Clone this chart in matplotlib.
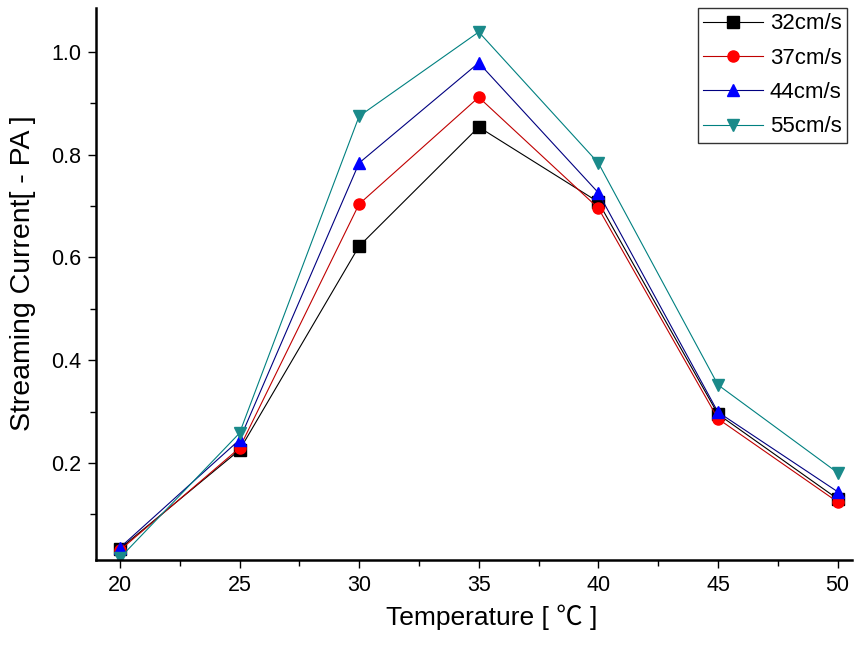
import matplotlib
matplotlib.use("Agg")
import matplotlib.pyplot as plt
from matplotlib.ticker import MultipleLocator

plt.rcParams["font.family"] = ["Liberation Sans", "Noto Sans CJK KR", "DejaVu Sans"]

temps = [20, 25, 30, 35, 40, 45, 50]
s32 = [0.033, 0.225, 0.622, 0.854, 0.708, 0.295, 0.130]
s37 = [0.030, 0.229, 0.704, 0.912, 0.696, 0.286, 0.124]
s44 = [0.035, 0.245, 0.784, 0.979, 0.726, 0.299, 0.144]
s55 = [0.015, 0.258, 0.875, 1.039, 0.784, 0.352, 0.181]
labels = ["32cm/s", "37cm/s", "44cm/s", "55cm/s"]

series = [
    (s32, "black", "black", "s"),
    (s37, "#c00000", "red", "o"),
    (s44, "#000080", "blue", "^"),
    (s55, "#008080", "#1a8a8a", "v"),
]

fig = plt.figure(figsize=(8.6, 6.45), dpi=100)
ax = fig.add_axes([0.1116, 0.1318, 0.879, 0.856])

for (vals, lc, mc, mk), lab in zip(series, labels):
    ax.plot(temps, vals, color=lc, linewidth=0.8, marker=mk, markersize=8,
            markerfacecolor=mc, markeredgecolor=mc, label=lab)

ax.set_xlim(19.0, 50.6)
ax.set_ylim(0.011, 1.086)
ax.xaxis.set_major_locator(MultipleLocator(5))
ax.xaxis.set_minor_locator(MultipleLocator(2.5))
ax.yaxis.set_major_locator(MultipleLocator(0.2))
ax.yaxis.set_minor_locator(MultipleLocator(0.1))
ax.yaxis.set_major_formatter(plt.FuncFormatter(lambda v, p: f"{v:.1f}"))

for s in ["top", "right"]:
    ax.spines[s].set_visible(False)
for s in ["left", "bottom"]:
    ax.spines[s].set_linewidth(1.8)

ax.tick_params(which="major", direction="out", length=5.5, width=1,
               labelsize=15.5, pad=5)
ax.tick_params(which="minor", direction="out", length=4, width=1)

ax.set_xlabel("Temperature [ \u2103 ]", fontsize=19)
ax.set_ylabel("Streaming Current[ - PA ]", fontsize=20.5)
ax.xaxis.set_label_coords(0.524, -0.08)
ax.yaxis.set_label_coords(-0.08, 0.52)

leg = ax.legend(loc="upper right", fontsize=16, frameon=True, fancybox=False,
                edgecolor="black", borderaxespad=0.2, handlelength=2.7,
                handletextpad=0.3, labelspacing=0.6, borderpad=0.25,
                bbox_to_anchor=(0.9995, 1.008))
leg.get_frame().set_linewidth(1.0)

fig.savefig("out.png", dpi=100)
